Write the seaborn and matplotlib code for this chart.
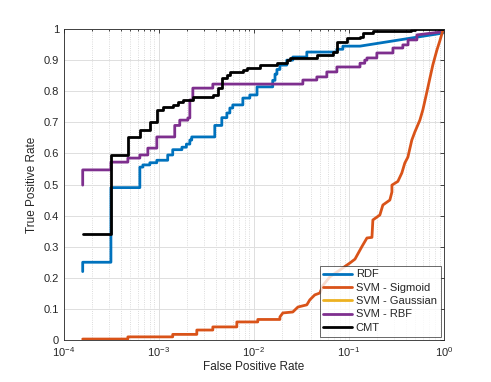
import numpy as np
import pandas as pd
import matplotlib
matplotlib.use("Agg")
import matplotlib.pyplot as plt
from matplotlib.lines import Line2D
from matplotlib.ticker import LogLocator, NullFormatter
import seaborn as sns

# ============================
# DATA (ROC vertices)
# ============================
rdf_fpr = [1.58e-4, 1.58e-4, 3.13e-4, 3.13e-4, 6.31e-4, 6.31e-4, 6.79e-4, 6.79e-4,
           8.04e-4, 8.04e-4, 9.52e-4, 9.52e-4, 1.24e-3, 1.24e-3, 1.40e-3, 1.40e-3,
           1.75e-3, 1.75e-3, 1.95e-3, 1.95e-3, 2.12e-3, 2.12e-3, 2.22e-3, 2.22e-3,
           3.88e-3, 3.88e-3, 4.6e-3, 4.6e-3, 5.2e-3, 5.2e-3, 5.59e-3, 5.59e-3,
           6.0e-3, 6.0e-3, 7.66e-3, 7.66e-3, 9.07e-3, 9.07e-3, 1.08e-2, 1.08e-2,
           1.58e-2, 1.58e-2, 1.67e-2, 1.67e-2, 1.75e-2, 1.75e-2, 1.88e-2, 1.88e-2,
           2.22e-2, 2.22e-2, 2.57e-2, 2.57e-2, 3.61e-2, 3.61e-2, 7.48e-2, 7.48e-2,
           8.65e-2, 8.65e-2, 0.131, 0.975, 1.0]
rdf_tpr = [0.22, 0.25, 0.25, 0.49, 0.49, 0.556, 0.556, 0.563,
           0.563, 0.57, 0.57, 0.578, 0.578, 0.595, 0.595, 0.612,
           0.612, 0.62, 0.62, 0.63, 0.63, 0.643, 0.643, 0.653,
           0.653, 0.69, 0.69, 0.715, 0.715, 0.73, 0.73, 0.746,
           0.746, 0.756, 0.756, 0.778, 0.778, 0.788, 0.788, 0.814,
           0.814, 0.835, 0.835, 0.855, 0.855, 0.87, 0.87, 0.884,
           0.884, 0.9, 0.9, 0.91, 0.91, 0.926, 0.926, 0.935,
           0.935, 0.945, 0.945, 0.987, 1.0]

sig_fpr = [1.58e-4, 4.72e-4, 4.72e-4, 1.40e-3, 1.40e-3, 2.51e-3, 2.51e-3, 3.7e-3,
           3.7e-3, 6.62e-3, 6.62e-3, 1.1e-2, 1.1e-2, 1.88e-2, 1.88e-2, 2.02e-2,
           2.57e-2, 2.91e-2, 3.61e-2, 3.88e-2, 4.38e-2, 4.95e-2, 5.32e-2, 6.31e-2,
           8.04e-2, 0.103, 0.116, 0.137, 0.155, 0.175, 0.179, 0.212,
           0.228, 0.270, 0.284, 0.284, 0.328, 0.361, 0.388, 0.418,
           0.46, 0.495, 0.559, 0.601, 0.662, 0.713, 0.766, 0.844,
           0.907, 0.975, 1.0]
sig_tpr = [0.003, 0.003, 0.01, 0.01, 0.018, 0.018, 0.032, 0.032,
           0.042, 0.042, 0.058, 0.058, 0.066, 0.066, 0.074, 0.087,
           0.09, 0.106, 0.113, 0.129, 0.145, 0.151, 0.175, 0.203,
           0.225, 0.248, 0.26, 0.30, 0.328, 0.33, 0.386, 0.402,
           0.434, 0.45, 0.476, 0.498, 0.51, 0.537, 0.569, 0.588,
           0.643, 0.669, 0.707, 0.74, 0.797, 0.842, 0.885, 0.932,
           0.962, 0.995, 1.0]

rbf_fpr = [1.58e-4, 1.58e-4, 3.13e-4, 3.13e-4, 4.72e-4, 4.72e-4, 6.31e-4, 6.31e-4,
           7.66e-4, 7.66e-4, 9.52e-4, 9.52e-4, 1.47e-3, 1.47e-3, 1.66e-3, 1.66e-3,
           2.02e-3, 2.02e-3, 2.12e-3, 2.12e-3, 2.28e-3, 2.28e-3, 3.7e-3, 3.7e-3,
           3.28e-2, 3.28e-2, 4.6e-2, 4.6e-2, 5.86e-2, 5.86e-2, 7.48e-2, 7.48e-2,
           0.131, 0.131, 0.147, 0.147, 0.155, 0.155, 0.197, 0.197,
           0.291, 0.291, 0.37, 0.37, 0.42, 0.42, 0.52, 0.52,
           0.9, 0.9, 1.0]
rbf_tpr = [0.498, 0.547, 0.547, 0.572, 0.572, 0.585, 0.585, 0.595,
           0.595, 0.617, 0.617, 0.653, 0.653, 0.69, 0.69, 0.707,
           0.707, 0.714, 0.714, 0.772, 0.772, 0.81, 0.81, 0.823,
           0.823, 0.836, 0.836, 0.846, 0.846, 0.862, 0.862, 0.878,
           0.878, 0.89, 0.89, 0.90, 0.90, 0.907, 0.907, 0.923,
           0.923, 0.939, 0.939, 0.949, 0.949, 0.965, 0.965, 0.981,
           0.99, 0.997, 1.0]

cmt_fpr = [1.58e-4, 3.13e-4, 3.13e-4, 4.72e-4, 4.72e-4, 6.31e-4, 6.31e-4, 8.04e-4,
           8.04e-4, 9.52e-4, 9.52e-4, 1.10e-3, 1.10e-3, 1.40e-3, 1.40e-3, 1.58e-3,
           1.58e-3, 1.79e-3, 1.79e-3, 2.28e-3, 2.28e-3, 3.7e-3, 3.7e-3, 4.18e-3,
           4.18e-3, 4.6e-3, 4.6e-3, 5.2e-3, 5.2e-3, 5.59e-3, 5.59e-3, 7.66e-3,
           7.66e-3, 8.44e-3, 8.44e-3, 1.16e-2, 1.16e-2, 1.75e-2, 1.75e-2, 2.22e-2,
           2.22e-2, 2.39e-2, 2.39e-2, 4.6e-2, 4.6e-2, 6.79e-2, 6.79e-2, 7.48e-2,
           7.48e-2, 9.52e-2, 9.52e-2, 0.131, 0.131, 0.14, 0.14, 0.179,
           0.179, 0.45, 0.45, 0.495, 0.495, 1.0]
cmt_tpr = [0.341, 0.341, 0.595, 0.595, 0.653, 0.653, 0.675, 0.675,
           0.701, 0.701, 0.74, 0.74, 0.749, 0.749, 0.756, 0.756,
           0.765, 0.765, 0.772, 0.772, 0.78, 0.78, 0.788, 0.788,
           0.81, 0.81, 0.842, 0.842, 0.852, 0.852, 0.862, 0.862,
           0.868, 0.868, 0.875, 0.875, 0.884, 0.884, 0.89, 0.89,
           0.90, 0.90, 0.906, 0.906, 0.916, 0.916, 0.925, 0.925,
           0.958, 0.958, 0.971, 0.971, 0.974, 0.974, 0.987, 0.987,
           0.994, 0.994, 0.997, 0.997, 1.0, 1.0]

labels = ["RDF", "SVM - Sigmoid", "SVM - Gaussian", "SVM - RBF", "CMT"]
colors = ["#0072BD", "#D95319", "#EDB120", "#7E2F8E", "#000000"]

# ============================
# BUILD TABLE
# ============================
parts = []
for name, f, t in [("RDF", rdf_fpr, rdf_tpr), ("SVM - Sigmoid", sig_fpr, sig_tpr),
                   ("SVM - RBF", rbf_fpr, rbf_tpr), ("CMT", cmt_fpr, cmt_tpr)]:
    parts.append(pd.DataFrame({"fpr": f, "tpr": t, "model": name}))
df = pd.concat(parts, ignore_index=True)

# ============================
# PLOT
# ============================
sns.set_style("white")
plt.rcParams["font.family"] = ["Liberation Sans", "DejaVu Sans"]

fig = plt.figure(figsize=(4.91, 3.82), dpi=100)
ax = fig.add_axes([0.130, 0.110, 0.774, 0.814])

palette = dict(zip(labels, colors))
sns.lineplot(data=df, x="fpr", y="tpr", hue="model", sort=False, estimator=None,
             palette=palette, linewidth=2, legend=False, ax=ax)

ax.set_xscale("log")
ax.set_xlim(1e-4, 1)
ax.set_ylim(0, 1)
ax.set_yticks(np.arange(0, 1.01, 0.1))
ax.set_yticklabels(["0", "0.1", "0.2", "0.3", "0.4", "0.5", "0.6", "0.7", "0.8", "0.9", "1"])
ax.xaxis.set_minor_locator(LogLocator(base=10, subs=np.arange(2, 10)))
ax.xaxis.set_minor_formatter(NullFormatter())

ax.grid(True, which="major", color="#dedede", linewidth=0.7)
ax.grid(True, which="minor", axis="x", color="#d0d0d0", linestyle=":", linewidth=0.6)
ax.set_axisbelow(True)

for s in ax.spines.values():
    s.set_color("#262626")
    s.set_linewidth(0.6)
ax.tick_params(which="both", direction="in", top=True, right=True,
               colors="#262626", labelsize=8, width=0.6)
ax.tick_params(which="major", length=3)
ax.tick_params(which="minor", length=1.6)

ax.set_xlabel("False Positive Rate", fontsize=8.5, color="#262626", labelpad=2)
ax.set_ylabel("True Positive Rate", fontsize=8.5, color="#262626", labelpad=4)

handles = [Line2D([], [], color=c, linewidth=2) for c in colors]
leg = ax.legend(handles, labels, loc="lower right", fontsize=8, frameon=True,
                fancybox=False, borderpad=0.35, labelspacing=0.3, handlelength=2.6,
                handletextpad=0.3, borderaxespad=0.3)
leg.get_frame().set_edgecolor("#262626")
leg.get_frame().set_linewidth(0.6)

fig.savefig("out.png", dpi=100)
